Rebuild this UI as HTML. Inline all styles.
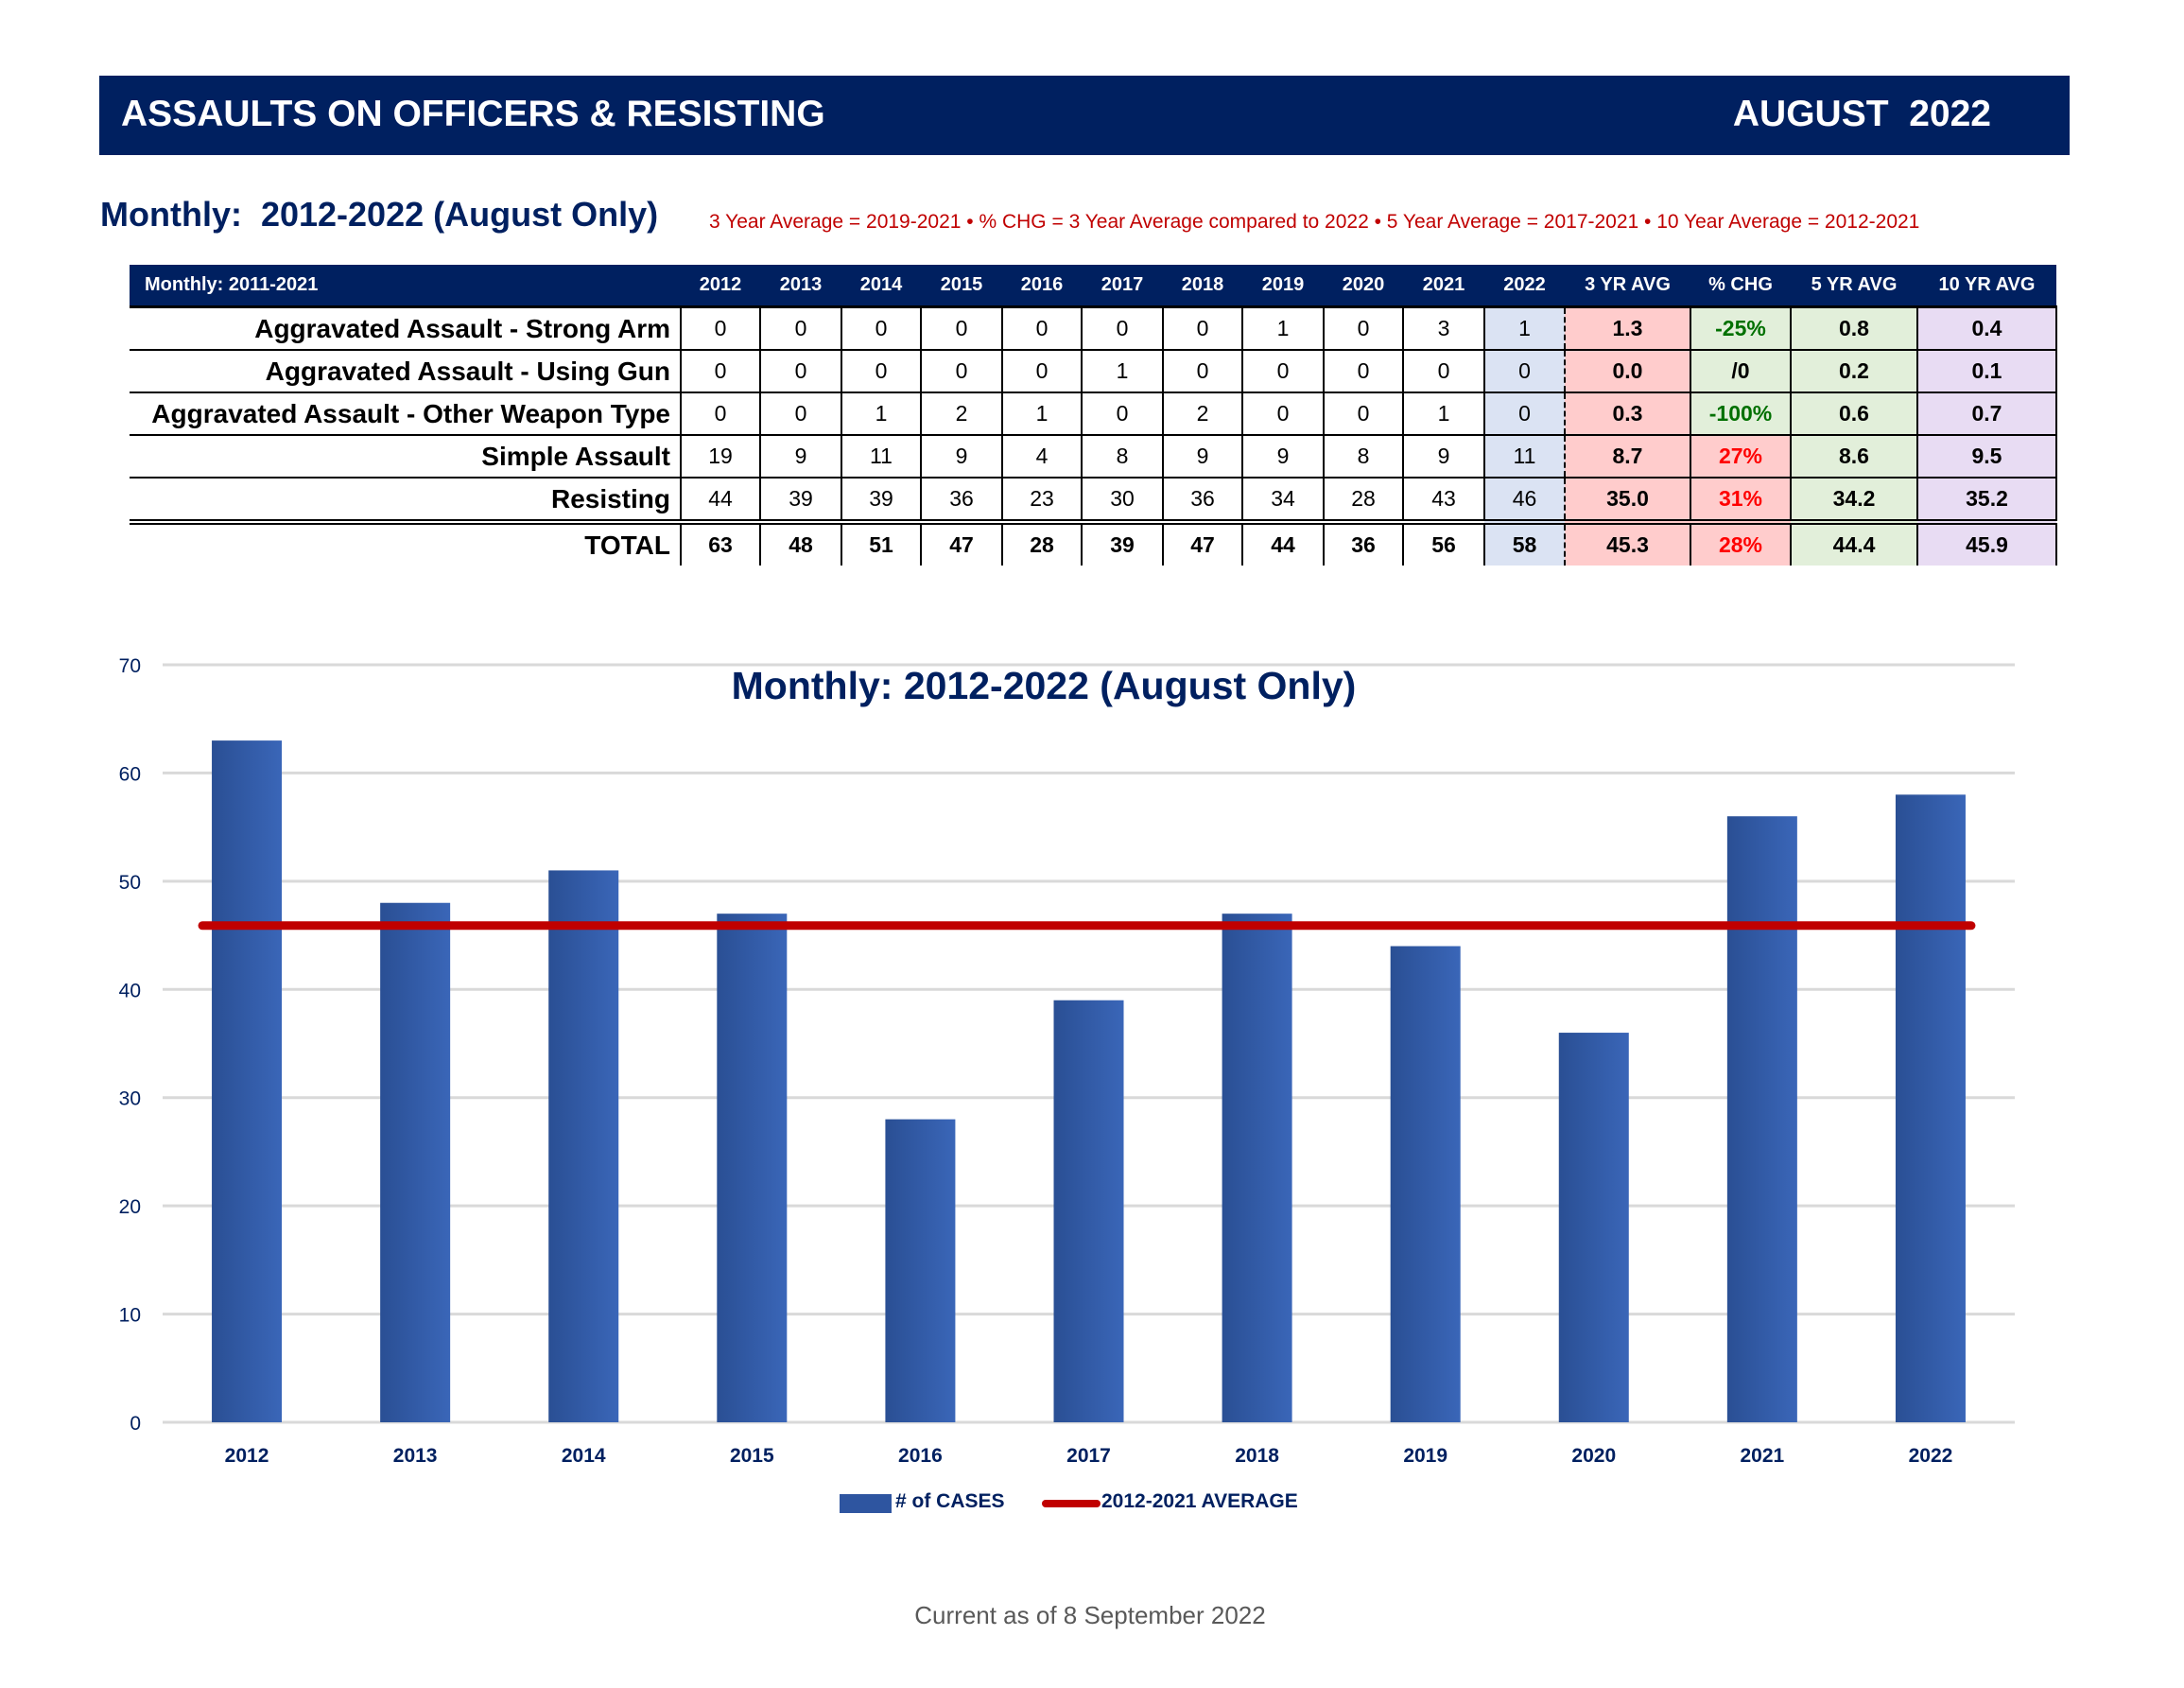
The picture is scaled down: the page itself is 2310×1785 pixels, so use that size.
<!DOCTYPE html>
<html><head><meta charset="utf-8"><style>
body{margin:0;width:2310px;height:1785px;background:#fff;position:relative;overflow:hidden;font-family:"Liberation Sans",sans-serif}
.abs{position:absolute}
#hdr{left:105px;top:80px;width:2084px;height:84px;background:#002060;color:#fff;font-weight:bold;font-size:39px}
table{position:absolute;left:137px;top:280px;border-collapse:collapse;table-layout:fixed}
td{height:43px;text-align:center;font-size:23px;border-right:2px solid #000;border-bottom:2px solid #000;padding:0}
th{height:43px;background:#002060;color:#fff;font-size:20px;font-weight:bold;border-bottom:3px solid #000;padding:0}
td.l{text-align:right;font-weight:bold;font-size:28px;padding-right:10px;border-right:2px solid #000}
.c22{background:#dbe3f3;border-left:2px dashed #000;border-right:2px dashed #000}
.c3{background:#ffcccc;font-weight:bold}.cc{background:#e2efda;font-weight:bold}.c5{background:#e2efda;font-weight:bold}.c10{background:#e8dcf3;font-weight:bold}
.g{color:#007000}.r{color:#ff0000}
tr.tot td{border-top:6px double #000;font-weight:bold;height:43px;border-bottom:none}
</style></head><body>
<div id="hdr" class="abs">
<span class="abs" style="left:23px;top:19px">ASSAULTS ON OFFICERS &amp; RESISTING</span>
<span class="abs" style="right:83px;top:19px">AUGUST&nbsp; 2022</span></div>
<div class="abs" style="left:106px;top:206px;font-size:36px;font-weight:bold;color:#002060">Monthly:&nbsp; 2012-2022 (August Only)</div>
<div class="abs" style="left:750px;top:223px;font-size:21px;color:#c00000">3 Year Average = 2019-2021 • % CHG = 3 Year Average compared to 2022 • 5 Year Average = 2017-2021 • 10 Year Average = 2012-2021</div>
<table>
<colgroup><col style="width:583px"><col style="width:84px"><col style="width:86px"><col style="width:84px"><col style="width:86px"><col style="width:84px"><col style="width:86px"><col style="width:84px"><col style="width:86px"><col style="width:84px"><col style="width:86px"><col style="width:85px"><col style="width:133px"><col style="width:106px"><col style="width:134px"><col style="width:147px"></colgroup>
<tr><th style="text-align:left;padding-left:16px">Monthly: 2011-2021</th><th>2012</th><th>2013</th><th>2014</th><th>2015</th><th>2016</th><th>2017</th><th>2018</th><th>2019</th><th>2020</th><th>2021</th><th>2022</th><th>3 YR AVG</th><th>% CHG</th><th>5 YR AVG</th><th>10 YR AVG</th></tr>
<tr><td class="l">Aggravated Assault - Strong Arm</td><td>0</td><td>0</td><td>0</td><td>0</td><td>0</td><td>0</td><td>0</td><td>1</td><td>0</td><td>3</td><td class="c22">1</td><td class="c3">1.3</td><td class="cc g">-25%</td><td class="c5">0.8</td><td class="c10">0.4</td></tr>
<tr><td class="l">Aggravated Assault - Using Gun</td><td>0</td><td>0</td><td>0</td><td>0</td><td>0</td><td>1</td><td>0</td><td>0</td><td>0</td><td>0</td><td class="c22">0</td><td class="c3">0.0</td><td class="cc">/0</td><td class="c5">0.2</td><td class="c10">0.1</td></tr>
<tr><td class="l">Aggravated Assault - Other Weapon Type</td><td>0</td><td>0</td><td>1</td><td>2</td><td>1</td><td>0</td><td>2</td><td>0</td><td>0</td><td>1</td><td class="c22">0</td><td class="c3">0.3</td><td class="cc g">-100%</td><td class="c5">0.6</td><td class="c10">0.7</td></tr>
<tr><td class="l">Simple Assault</td><td>19</td><td>9</td><td>11</td><td>9</td><td>4</td><td>8</td><td>9</td><td>9</td><td>8</td><td>9</td><td class="c22">11</td><td class="c3">8.7</td><td class="c3 r">27%</td><td class="c5">8.6</td><td class="c10">9.5</td></tr>
<tr><td class="l">Resisting</td><td>44</td><td>39</td><td>39</td><td>36</td><td>23</td><td>30</td><td>36</td><td>34</td><td>28</td><td>43</td><td class="c22">46</td><td class="c3">35.0</td><td class="c3 r">31%</td><td class="c5">34.2</td><td class="c10">35.2</td></tr>
<tr class="tot"><td class="l">TOTAL</td><td>63</td><td>48</td><td>51</td><td>47</td><td>28</td><td>39</td><td>47</td><td>44</td><td>36</td><td>56</td><td class="c22">58</td><td class="c3">45.3</td><td class="c3 r">28%</td><td class="c5">44.4</td><td class="c10">45.9</td></tr>
</table>
<svg id="chart" class="abs" style="left:0;top:0" width="2310" height="1785">
<defs><linearGradient id="bg" x1="0" x2="1"><stop offset="0" stop-color="#2a4f94"/><stop offset="1" stop-color="#3a66b8"/></linearGradient></defs>
<g id="grid"></g><g id="bars"></g><g id="xl"></g>
</svg>
<div class="abs" style="left:0;width:2208px;top:702px;text-align:center;font-size:41px;font-weight:bold;color:#002060">Monthly: 2012-2022 (August Only)</div>
<div class="abs" style="left:888px;top:1580px;width:55px;height:20px;background:#2e55a0"></div>
<div class="abs" style="left:947px;top:1576px;font-size:21px;font-weight:bold;color:#002060"># of CASES</div>
<div class="abs" style="left:1102px;top:1586px;width:62px;height:8px;background:#c00000;border-radius:4px"></div>
<div class="abs" style="left:1165px;top:1576px;font-size:21px;font-weight:bold;color:#002060">2012-2021 AVERAGE</div>
<div class="abs" style="left:0;width:2306px;top:1693px;text-align:center;font-size:26px;color:#595959">Current as of 8 September 2022</div>
<script>
const years=["2012","2013","2014","2015","2016","2017","2018","2019","2020","2021","2022"];
const cases=[63,48,51,47,28,39,47,44,36,56,58];
const average=[45.9];
const yTicks=[0,10,20,30,40,50,60,70];
const NS="http://www.w3.org/2000/svg";
const x0=172,x1=2131,y0=1504,yTop=703,ymax=70;
const band=(x1-x0)/years.length;
const yS=v=>y0-(v/ymax)*(y0-yTop);
const xC=i=>x0+band*(i+0.5);
function mk(t,a,p){const e=document.createElementNS(NS,t);for(const k in a)e.setAttribute(k,a[k]);p.appendChild(e);return e;}
const G=document.getElementById('grid'),B=document.getElementById('bars'),X=document.getElementById('xl');
yTicks.forEach(v=>{
 const l=mk('line',{x1:x0,x2:x1,y1:yS(v),y2:yS(v),stroke:'#d9d9d9','stroke-width':3},G);
 
 
 const t=mk('text',{x:149,y:yS(v)+8,'text-anchor':'end','font-size':21,fill:'#002060','font-family':'Liberation Sans, sans-serif'},G);
 t.textContent=v;
 
 
});
const bw=74;
cases.forEach((v,i)=>{
 const r=mk('rect',{x:xC(i)-bw/2,y:yS(v),width:bw,height:y0-yS(v),fill:'url(#bg)'},B);
 
 
 const t=mk('text',{x:xC(i),y:1546,'text-anchor':'middle','font-size':21,'font-weight':'bold',fill:'#002060','font-family':'Liberation Sans, sans-serif'},X);
 t.textContent=years[i];
 
 
});
const av=mk('line',{x1:xC(0)-47,x2:xC(years.length-1)+43,y1:yS(average[0]),y2:yS(average[0]),stroke:'#c00000','stroke-width':9,'stroke-linecap':'round'},B);


</script>
</body></html>
